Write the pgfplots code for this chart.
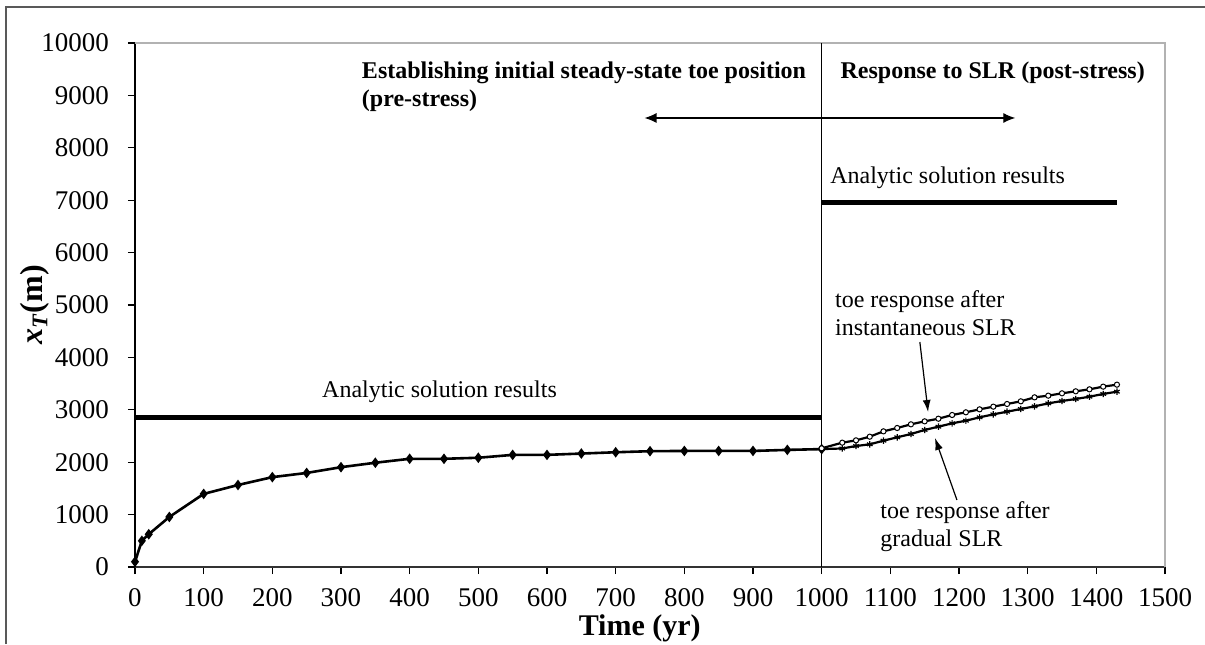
\documentclass[border=0pt]{standalone}
\usepackage{pgfplots}
\pgfplotsset{compat=1.18}
\usepackage{fontspec}
\setmainfont{Liberation Serif}
\usetikzlibrary{arrows.meta}
\begin{document}
\begin{tikzpicture}
\useasboundingbox (-67.5pt,-38.5pt) rectangle (535pt,283.5pt);
\draw[gray!70!black, line width=0.8pt] (-64.5pt,-38.5pt) -- (-64.5pt,280pt) -- (535pt,280pt);
\begin{axis}[
  at={(0pt,0pt)}, anchor=south west,
  scale only axis, width=515pt, height=262pt,
  xmin=0, xmax=1500, ymin=0, ymax=10000,
  xtick={0,100,...,1500}, ytick={0,1000,...,10000},
  separate axis lines,
  axis x line*=bottom, axis y line*=left,
  x axis line style={-, line width=0.6pt, gray!40!black},
  y axis line style={-, line width=0.6pt, black},
  tick align=outside, major tick length=3.5pt,
  tick style={line width=0.6pt, black},
  scaled ticks=false,
  /pgf/number format/assume math mode=true,
  /pgf/number format/set thousands separator={},
  ticklabel style={font=\fontsize{13.5}{16}\selectfont},
  yticklabel style={xshift=-6pt},
  xticklabel style={yshift=-3.5pt},
  xlabel={\textbf{Time (yr)}},
  xlabel style={at={(axis description cs:0.49,-0.1164)}, anchor=center, inner sep=0pt, font=\fontsize{15}{18}\selectfont},
  ylabel={\textbf{\textit{x}\textsubscript{\textit{T}}(m)}},
  ylabel style={at={(axis description cs:-0.0975,0.5)}, anchor=center, inner sep=0pt, rotate=0, font=\fontsize{16}{19}\selectfont},
  clip=false,
]
% top and right frame of plot area
\draw[gray!60, line width=0.6pt] (axis cs:0,10000) -- (axis cs:1500,10000) -- (axis cs:1500,0);
% vertical divider
\addplot[black, line width=0.6pt, no marks] coordinates {(1000,0) (1000,10000)};
% analytic solutions
\addplot[black, line width=2.6pt, no marks] coordinates {(0,2860) (1000,2860)};
\addplot[black, line width=2.6pt, no marks] coordinates {(1000,6950) (1430,6950)};
% pre-stress numerical
\addplot[black, line width=1.3pt, mark=diamond*, mark size=1.6pt] coordinates {
(0,100) (10,500) (20,625) (50,955) (100,1395) (150,1565) (200,1715) (250,1795)
(300,1905) (350,1990) (400,2065) (450,2065) (500,2085) (550,2140) (600,2140)
(650,2165) (700,2190) (750,2210) (800,2215) (850,2215) (900,2215) (950,2235) (1000,2250)};
% gradual SLR
\addplot[black, line width=1.1pt, mark=asterisk, mark size=1.6pt, mark options={line width=0.6pt}] coordinates {
(1000,2250) (1030,2262) (1050,2309) (1070,2341) (1090,2411) (1110,2475) (1130,2538)
(1150,2615) (1170,2678) (1190,2742) (1210,2792) (1230,2856) (1250,2913) (1270,2964)
(1290,3015) (1310,3066) (1330,3123) (1350,3168) (1370,3206) (1390,3250) (1410,3302) (1430,3346)};
% instantaneous SLR
\addplot[black, line width=1.1pt, mark=*, mark size=1.3pt, mark options={fill=white, line width=0.5pt}] coordinates {
(1000,2265) (1030,2373) (1050,2417) (1070,2487) (1090,2589) (1110,2653) (1130,2723)
(1150,2780) (1170,2830) (1190,2901) (1210,2952) (1230,3009) (1250,3060) (1270,3111)
(1290,3162) (1310,3238) (1330,3270) (1350,3315) (1370,3353) (1390,3391) (1410,3442) (1430,3480)};
% annotations
\node[anchor=west, align=left, inner sep=0pt, font=\fontsize{12}{14}\selectfont\bfseries] at (axis cs:330,9160)
  {Establishing initial steady-state toe position\\(pre-stress)};
\node[anchor=west, inner sep=0pt, font=\fontsize{12}{14}\selectfont\bfseries] at (axis cs:1027,9427)
  {Response to SLR (post-stress)};
\draw[{Latex[length=6pt,width=5pt]}-{Latex[length=6pt,width=5pt]}, line width=0.6pt] (axis cs:742,8569) -- (axis cs:1282,8569);
\node[anchor=west, inner sep=0pt, font=\fontsize{12}{14}\selectfont] at (axis cs:1012,7424) {Analytic solution results};
\node[anchor=west, inner sep=0pt, font=\fontsize{12}{14}\selectfont] at (axis cs:272,3340) {Analytic solution results};
\node[anchor=west, align=left, inner sep=0pt, font=\fontsize{12}{14}\selectfont] at (axis cs:1019,4847)
  {toe response after\\instantaneous SLR};
\draw[-{Latex[length=6pt,width=4pt]}, line width=0.6pt] (axis cs:1143,4294) -- (axis cs:1155,2958);
\node[anchor=west, align=left, inner sep=0pt, font=\fontsize{12}{14}\selectfont] at (axis cs:1085,763)
  {toe response after\\gradual SLR};
\draw[-{Latex[length=6pt,width=4pt]}, line width=0.6pt] (axis cs:1197,1279) -- (axis cs:1165,2462);
\end{axis}
\end{tikzpicture}
\end{document}
